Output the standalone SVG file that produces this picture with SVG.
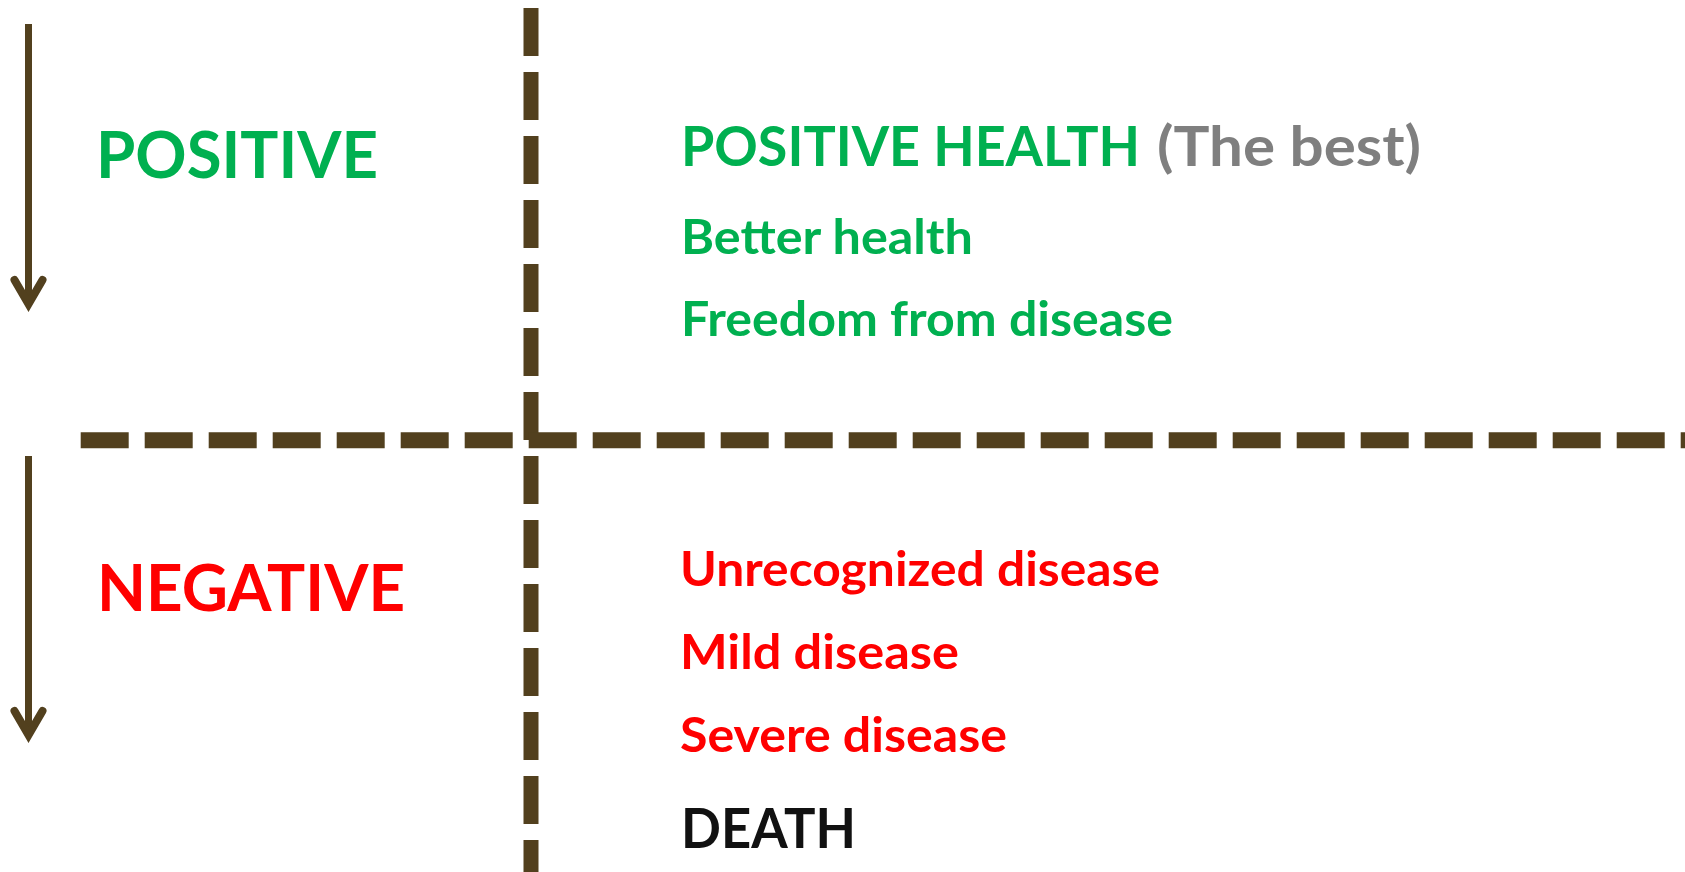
<svg xmlns="http://www.w3.org/2000/svg" width="1685" height="872" viewBox="0 0 1685 872">
<style>
.t{font-family:Lato,"Open Sans","Liberation Sans",sans-serif;font-weight:700}
.g{fill:#00B050}
.r{fill:#FF0000}
.gr{fill:#7F7F7F}
.k{fill:#111111}
.dash{stroke:#52401E;stroke-dasharray:48 16;fill:none}
.arr{stroke:#52401E;stroke-width:7;fill:none;marker-end:url(#ah)}
</style>
<defs>
<marker id="ah" markerUnits="userSpaceOnUse" orient="auto" overflow="visible" markerWidth="1" markerHeight="1" refX="0" refY="0">
<path d="M-24,-14 L0,0 L-24,14" fill="none" stroke="#52401E" stroke-width="8" stroke-linecap="round" stroke-linejoin="miter"/>
</marker>
</defs>
<rect width="1685" height="872" fill="#FFFFFF"/>
<g id="dividers">
<line class="dash" x1="531" y1="8" x2="531" y2="880" stroke-width="15"/>
<line class="dash" x1="80.7" y1="440.3" x2="1700" y2="440.3" stroke-width="16"/>
</g>
<g id="connectors">
<line class="arr" x1="28.5" y1="24" x2="28.5" y2="304"/>
<line class="arr" x1="28.5" y1="456" x2="28.5" y2="735"/>
</g>
<g id="positive"><text class="t g" x="96" y="178" font-size="65" textLength="282" lengthAdjust="spacingAndGlyphs">POSITIVE</text></g>
<g id="negative"><text class="t r" x="97" y="611" font-size="65" textLength="308" lengthAdjust="spacingAndGlyphs">NEGATIVE</text></g>
<g id="positive-health">
<text class="t g" x="681" y="166" font-size="56" textLength="459" lengthAdjust="spacingAndGlyphs">POSITIVE HEALTH</text>
<text class="t gr" x="1157" y="166" font-size="56" textLength="264" lengthAdjust="spacingAndGlyphs">(The best)</text>
</g>
<g id="better-health"><text class="t g" x="681" y="253.5" font-size="47" textLength="292" lengthAdjust="spacingAndGlyphs">Better health</text></g>
<g id="freedom"><text class="t g" x="681" y="336" font-size="47" textLength="492" lengthAdjust="spacingAndGlyphs">Freedom from disease</text></g>
<g id="unrecognized"><text class="t r" x="680" y="586" font-size="47" textLength="480" lengthAdjust="spacingAndGlyphs">Unrecognized disease</text></g>
<g id="mild"><text class="t r" x="680" y="669" font-size="47" textLength="279" lengthAdjust="spacingAndGlyphs">Mild disease</text></g>
<g id="severe"><text class="t r" x="680" y="752" font-size="47" textLength="327" lengthAdjust="spacingAndGlyphs">Severe disease</text></g>
<g id="death"><text class="t k" x="681" y="848" font-size="55" textLength="175" lengthAdjust="spacingAndGlyphs">DEATH</text></g>
</svg>
